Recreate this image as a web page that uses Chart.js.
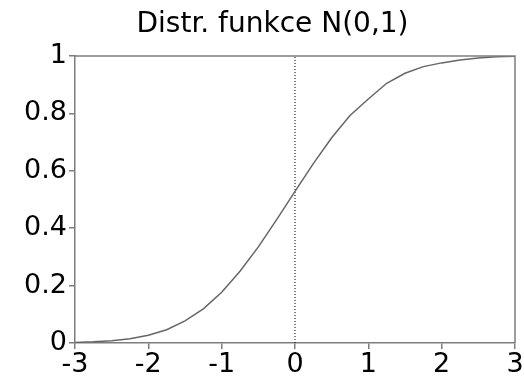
<!DOCTYPE html>
<html>
<head>
<meta charset="utf-8">
<script src="https://cdn.jsdelivr.net/npm/chart.js@4"></script>
<style>
  html, body { margin: 0; padding: 0; background: #fff; }
  #wrap { width: 524px; height: 382px; }
</style>
</head>
<body>
<div id="wrap"><canvas id="chart"></canvas></div>
<script>
// values
const xs = [-3, -2.75, -2.5, -2.25, -2, -1.75, -1.5, -1.25, -1, -0.75, -0.5, -0.25, 0,
  0.25, 0.5, 0.75, 1, 1.25, 1.5, 1.75, 2, 2.25, 2.5, 2.75, 3];
const cdf = [0.002, 0.004, 0.008, 0.015, 0.027, 0.046, 0.077, 0.119, 0.177, 0.25, 0.335, 0.43, 0.528,
  0.625, 0.715, 0.793, 0.85, 0.905, 0.94, 0.963, 0.976, 0.986, 0.993, 0.997, 0.999];
const zeroLineX = [0, 0];
const zeroLineY = [0, 1];

const axisColor = "#7d7d7d";
const font = "'DejaVu Sans', sans-serif";

const frame = {
  id: "frame",
  afterLayout(chart) {
    // title sits a bit right of the canvas centre in the original
    if (chart.titleBlock) {
      chart.titleBlock.left += 5;
      chart.titleBlock.right += 5;
    }
  },
  afterDatasetsDraw(chart) {
    const { ctx, chartArea: a } = chart;
    ctx.save();
    ctx.strokeStyle = axisColor;
    ctx.lineWidth = 1.5;
    ctx.beginPath();
    ctx.moveTo(a.left, a.top);
    ctx.lineTo(a.right, a.top);
    ctx.lineTo(a.right, a.bottom);
    ctx.stroke();
    ctx.restore();
  },
};

const config = {
  type: "line",
  data: {
    datasets: [
      {
        data: xs.map((x, i) => ({ x: x, y: cdf[i] })),
        borderColor: "#666",
        borderWidth: 1.5,
        pointRadius: 0,
        tension: 0,
      },
      {
        data: zeroLineX.map((x, i) => ({ x: x, y: zeroLineY[i] })),
        borderColor: "#000",
        borderWidth: 1,
        borderDash: [1, 2],
        pointRadius: 0,
      },
    ],
  },
  options: {
    responsive: true,
    maintainAspectRatio: false,
    animation: false,
    layout: { padding: { left: 20, right: 9, top: 0, bottom: 0 } },
    scales: {
      x: {
        type: "linear",
        min: -3,
        max: 3,
        ticks: {
          stepSize: 1,
          color: "#000",
          font: { family: font, size: 27 },
          padding: 0,
          maxRotation: 0,
        },
        grid: { drawOnChartArea: false, tickLength: 6, color: axisColor, lineWidth: 1.5 },
        border: { color: axisColor, width: 1.5 },
        afterFit: (s) => { s.height = 39; },
      },
      y: {
        min: 0,
        max: 1,
        ticks: {
          stepSize: 0.1,
          color: "#000",
          font: { family: font, size: 27 },
          padding: 2,
          callback: (v) => {
            const r = Math.round(v * 10);
            return r % 2 === 0 ? String(r / 10) : "";
          },
        },
        grid: { drawOnChartArea: false, tickLength: 6, color: axisColor, lineWidth: 1.5 },
        border: { color: axisColor, width: 1.5 },
        afterFit: (s) => { s.width = 55; },
      },
    },
    plugins: {
      legend: { display: false },
      tooltip: { enabled: false },
      title: {
        display: true,
        text: "Distr. funkce N(0,1)",
        color: "#000",
        font: { family: font, size: 28, weight: "normal" },
        padding: { top: 8, bottom: 14.4 },
      },
    },
  },
  plugins: [frame],
};

new Chart(document.getElementById("chart"), config);
</script>
</body>
</html>
